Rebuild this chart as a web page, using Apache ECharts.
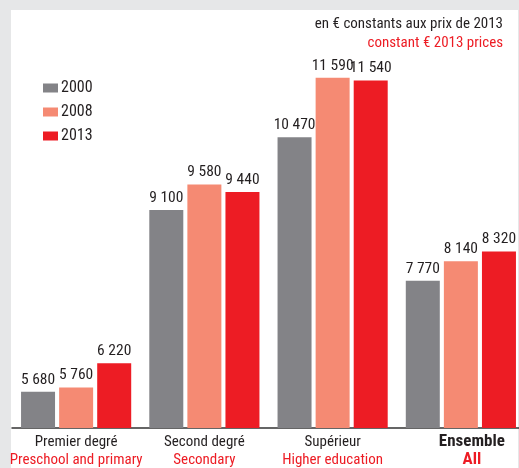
<!DOCTYPE html>
<html>
<head>
<meta charset="utf-8">
<style>
  html, body { margin: 0; padding: 0; background: #e6e7e8; }
  #wrap { position: relative; width: 519px; height: 468px; }
  #panel { position: absolute; left: 11px; top: 10px; width: 507px; height: 458px; background: #fff; }
  #main { position: absolute; left: 0; top: 0; width: 519px; height: 468px; }
</style>
<script src="https://cdn.jsdelivr.net/npm/echarts@6/dist/echarts.min.js"></script>
</head>
<body>
<div id="wrap"><div id="panel"></div><div id="main"></div></div>
<script>
const FONT = '"Roboto Condensed", "DejaVu Sans Condensed", sans-serif';
const categoriesFr = ['Premier degré', 'Second degré', 'Supérieur', 'Ensemble'];
const categoriesEn = ['Preschool and primary', 'Secondary', 'Higher education', 'All'];
const years = ['2000', '2008', '2013'];
const values2000 = [5680, 9100, 10470, 7770];
const values2008 = [5760, 9580, 11590, 8140];
const values2013 = [6220, 9440, 11540, 8320];
const colors = ['#838387', '#f58a73', '#ed1c24'];

function fmt(v) {
  const r = String(v % 1000).padStart(3, '0');
  return Math.floor(v / 1000) + ' ' + r;
}

function makeSeries(name, values, color) {
  return {
    name: name,
    type: 'bar',
    data: values,
    barWidth: 34,
    barGap: '12%',
    itemStyle: { color: color },
    label: {
      show: true,
      position: 'top',
      distance: 4,
      color: '#231f20',
      fontFamily: FONT,
      fontSize: 15.5,
      formatter: (p) => fmt(p.value)
    },
    labelLayout: { hideOverlap: false }
  };
}

const options = {
  animation: false,
  color: colors,
  // grid runs a bit past the right edge, like the original
  grid: { left: 12, top: 56, width: 513, height: 372, containLabel: false, outerBoundsMode: 'none' },
  legend: {
    orient: 'vertical',
    left: 38,
    top: 73,
    icon: 'rect',
    itemWidth: 15,
    itemHeight: 9,
    itemGap: 4,
    textStyle: { fontFamily: FONT, fontSize: 16, color: '#231f20', lineHeight: 20, padding: [0, 0, 0, -2] },
    data: years
  },
  graphic: [
    {
      type: 'text', right: 16, top: 17,
      style: { text: 'en € constants aux prix de 2013', fill: '#231f20', font: '15px ' + FONT }
    },
    {
      type: 'text', right: 16, top: 36,
      style: { text: 'constant € 2013 prices', fill: '#ed1c24', font: '15px ' + FONT }
    }
  ],
  xAxis: {
    type: 'category',
    data: categoriesFr,
    axisLine: { lineStyle: { color: '#333', width: 1.5 } },
    axisTick: { show: false },
    axisLabel: {
      interval: 0,
      margin: 5,
      formatter: (v, i) => {
        const bold = i === categoriesFr.length - 1;
        return bold
          ? '{c|' + v + '}\n{d|' + categoriesEn[i] + '}'
          : '{a|' + v + '}\n{b|' + categoriesEn[i] + '}';
      },
      rich: {
        a: { fontFamily: FONT, fontSize: 15, color: '#231f20', lineHeight: 18 },
        b: { fontFamily: FONT, fontSize: 15, color: '#ed1c24', lineHeight: 18 },
        c: { fontFamily: FONT, fontSize: 17, fontWeight: 'bold', color: '#231f20', lineHeight: 18, padding: [0, 0, 0, 22] },
        d: { fontFamily: FONT, fontSize: 17, fontWeight: 'bold', color: '#ed1c24', lineHeight: 18, padding: [0, 0, 0, 22] }
      }
    }
  },
  yAxis: {
    type: 'value',
    min: 5000,
    max: 12000,
    show: false,
    splitLine: { show: false }
  },
  series: [
    makeSeries(years[0], values2000, colors[0]),
    makeSeries(years[1], values2008, colors[1]),
    makeSeries(years[2], values2013, colors[2])
  ]
};

const myChart = echarts.init(document.getElementById('main'));
myChart.setOption(options);
</script>
</body>
</html>
